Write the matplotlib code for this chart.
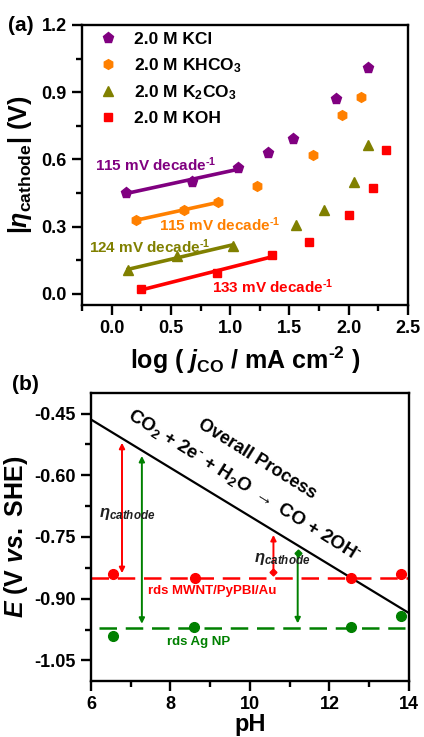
import matplotlib
matplotlib.use("Agg")
import matplotlib.pyplot as plt
import numpy as np

plt.rcParams['font.family'] = ['Liberation Sans', 'DejaVu Sans']
plt.rcParams['font.weight'] = 'bold'
plt.rcParams['axes.labelweight'] = 'bold'
plt.rcParams['mathtext.fontset'] = 'custom'
plt.rcParams['mathtext.rm'] = 'Liberation Sans:bold'
plt.rcParams['mathtext.bf'] = 'Liberation Sans:bold'
plt.rcParams['mathtext.it'] = 'Liberation Sans:italic:bold'
plt.rcParams['axes.linewidth'] = 1.7

# ---- panel (a) data: log(j_CO) vs |eta_cathode| ----
kcl_x = [0.125, 0.674, 1.063, 1.317, 1.531, 1.893, 2.166]
kcl_y = [0.452, 0.501, 0.561, 0.630, 0.690, 0.870, 1.010]
khco3_x = [0.209, 0.612, 0.899, 1.225, 1.698, 1.940, 2.102]
khco3_y = [0.330, 0.372, 0.410, 0.479, 0.620, 0.799, 0.880]
k2co3_x = [0.139, 0.551, 1.022, 1.551, 1.790, 2.043, 2.160]
k2co3_y = [0.104, 0.170, 0.214, 0.305, 0.376, 0.497, 0.666]
koh_x = [0.251, 0.891, 1.356, 1.662, 1.999, 2.205, 2.311]
koh_y = [0.022, 0.092, 0.172, 0.232, 0.352, 0.470, 0.641]

labels_a = ['2.0 M KCl', '2.0 M KHCO$_3$', '2.0 M K$_2$CO$_3$', '2.0 M KOH']
colors_a = ['#800080', '#FF8000', '#808000', '#FF0000']
markers_a = ['p', 'h', '^', 's']
msizes_a = [8, 7, 7.5, 6]
sup = r'$^{\text{-1}}$'
slope_text = ['115 mV decade' + sup, '115 mV decade' + sup,
              '124 mV decade' + sup, '133 mV decade' + sup]
slope_pos = [(-0.14, 0.575), (0.40, 0.308), (-0.195, 0.211), (0.85, 0.033)]

# ---- panel (b) data: E vs pH ----
overall_ph = [6, 14]
overall_E = [-0.4645, -0.935]
mwnt_ph = [6.55, 8.62, 12.54, 13.79]
mwnt_E = [-0.840, -0.850, -0.850, -0.840]
mwnt_rds = -0.850
ag_ph = [6.55, 8.60, 12.54, 13.79]
ag_E = [-0.991, -0.970, -0.970, -0.941]
ag_rds = -0.972

fig = plt.figure(figsize=(4.24, 7.37), dpi=100)

# ================= (a) =================
ax = fig.add_axes([0.1934, 0.5862, 0.7689, 0.3799])
series = [(kcl_x, kcl_y), (khco3_x, khco3_y), (k2co3_x, k2co3_y), (koh_x, koh_y)]
for (xs, ys), lab, c, m, ms, st, sp in zip(series, labels_a, colors_a, markers_a,
                                         msizes_a, slope_text, slope_pos):
    ax.plot(xs, ys, m, color=c, ms=ms, mec=c, label=lab, ls='none')
    k, b = np.polyfit(xs[:3], ys[:3], 1)
    fx = np.array([xs[0], xs[2]])
    ax.plot(fx, k * fx + b, '-', color=c, lw=2.6)
    ax.text(sp[0], sp[1], st, color=c, fontsize=11, fontweight='bold', va='center')

ax.set_xlim(-0.25, 2.5)
ax.set_ylim(-0.05, 1.2)
ax.set_xticks([0.0, 0.5, 1.0, 1.5, 2.0, 2.5])
ax.set_xticks([-0.25, 0.25, 0.75, 1.25, 1.75, 2.25], minor=True)
ax.set_yticks([0.0, 0.3, 0.6, 0.9, 1.2])
ax.set_yticks([0.15, 0.45, 0.75, 1.05], minor=True)
ax.set_xticklabels(['0.0', '0.5', '1.0', '1.5', '2.0', '2.5'])
ax.set_yticklabels(['0.0', '0.3', '0.6', '0.9', '1.2'])
ax.tick_params(which='major', direction='out', length=7, width=1.7, labelsize=13, pad=4)
ax.tick_params(which='minor', direction='out', length=4, width=1.7)
ax.set_xlabel(r'log ( $j_{\rm CO}$ / mA cm$^{\text{-2}}$ )', fontsize=18, labelpad=5)
ax.set_ylabel(r'|$\eta_{\rm cathode}$| (V)', fontsize=18, labelpad=5)
leg = ax.legend(loc='upper left', bbox_to_anchor=(0.0, 1.03), frameon=False,
                fontsize=12.5, handletextpad=0.9, labelspacing=0.5,
                handlelength=1.2, numpoints=1)
fig.text(0.018, 0.966, '(a)', fontsize=15, fontweight='bold', va='center')

# ================= (b) =================
bx = fig.add_axes([0.2146, 0.076, 0.75, 0.3908])
bx.plot(overall_ph, overall_E, '-', color='k', lw=1.6)
bx.plot([6.0, 14.0], [mwnt_rds, mwnt_rds], color='#FF0000', lw=1.8, dashes=(7, 3.5))
bx.plot([6.2, 13.9], [ag_rds, ag_rds], color='#008000', lw=1.8, dashes=(7, 3.5))
bx.plot(mwnt_ph, mwnt_E, 'o', color='#FF0000', ms=7)
bx.plot(ag_ph, ag_E, 'o', color='#008000', ms=7)

# overpotential arrows: x, start, end, color, style
arrow_ph = [6.78, 7.28, 10.59, 11.20]
arrow_from = [-0.838, -0.961, -0.836, -0.788]
arrow_to = [-0.521, -0.553, -0.745, -0.960]
arrow_col = ['#FF0000', '#008000', '#FF0000', '#008000']
arrow_style = ['<|-|>', '<|-|>', '-|>', '-|>']
for x, y0, y1, c, st in zip(arrow_ph, arrow_from, arrow_to, arrow_col, arrow_style):
    bx.annotate('', xy=(x, y1), xytext=(x, y0),
                arrowprops=dict(arrowstyle=st, color=c, lw=1.4, mutation_scale=8,
                                shrinkA=0, shrinkB=0))
    if st == '-|>':
        bx.plot([x], [y0], 'D', color=c, ms=3.5)

bx.text(10.17, -0.561, 'Overall Process', rotation=-32, fontsize=13,
        fontweight='bold', ha='center', va='center', rotation_mode='anchor')
bx.text(9.85, -0.625, r'CO$_2$ + 2e$^{\text{-}}$ + H$_2$O $\rightarrow$ CO + 2OH$^{\text{-}}$',
        rotation=-32, fontsize=13.5, fontweight='bold', ha='center', va='center',
        rotation_mode='anchor')
bx.text(6.9, -0.695, r'$\eta_{cathode}$', fontsize=12, color='#202020',
        ha='center', va='center')
bx.text(10.8, -0.804, r'$\eta_{cathode}$', fontsize=12, color='#202020',
        ha='center', va='center')
bx.text(9.05, -0.882, 'rds MWNT/PyPBI/Au', color='#FF0000', fontsize=9.5,
        fontweight='bold', ha='center', va='center')
bx.text(8.72, -1.006, 'rds Ag NP', color='#008000', fontsize=9.5,
        fontweight='bold', ha='center', va='center')

bx.set_xlim(6, 14)
bx.set_ylim(-1.10, -0.40)
bx.set_xticks([6, 8, 10, 12, 14])
bx.set_xticks([7, 9, 11, 13], minor=True)
bx.set_yticks([-1.05, -0.90, -0.75, -0.60, -0.45])
bx.set_yticks([-0.975, -0.825, -0.675, -0.525], minor=True)
bx.set_yticklabels(['-1.05', '-0.90', '-0.75', '-0.60', '-0.45'])
bx.tick_params(which='major', direction='out', length=7, width=1.7, labelsize=13, pad=4)
bx.tick_params(which='minor', direction='out', length=4, width=1.7)
bx.set_xlabel('pH', fontsize=17, labelpad=0)
bx.set_ylabel(r'$E$ (V $vs.$ SHE)', fontsize=18, labelpad=3)
fig.text(0.028, 0.478, '(b)', fontsize=15, fontweight='bold', va='center')

fig.savefig('out.png', dpi=100)
